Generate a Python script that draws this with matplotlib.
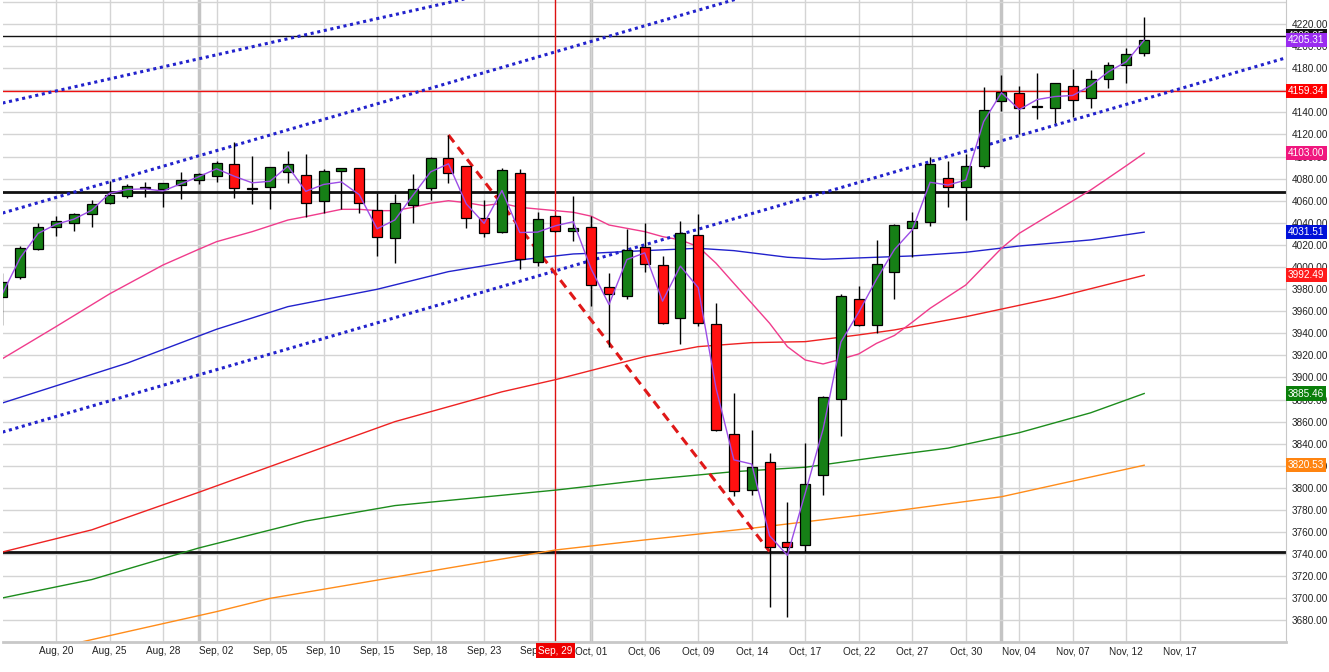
import matplotlib.pyplot as plt
from matplotlib.transforms import blended_transform_factory

plt.rcParams["font.family"] = ["Liberation Sans", "DejaVu Sans"]

# candle positions (trading-day index, 0 = Aug 20) and OHLC
idx = list(range(-3, 62))
opens = [3972.6, 3990.7, 4016.6, 4035.9, 4039.5, 4047.7, 4057.7, 4064.0, 4072.8, 4070.9,
         4074.5, 4078.8, 4082.1, 4093.0, 4071.5, 4072.1, 4086.3, 4083.3, 4059.5, 4086.6,
         4089.4, 4051.6, 4026.0, 4055.8, 4071.2, 4098.4, 4091.4, 4044.1, 4031.4, 4084.8,
         4004.8, 4046.2, 4032.9, 4035.9, 3981.6, 3974.0, 4017.8, 4001.5, 3953.5, 4029.0,
         3948.1, 3848.5, 3798.1, 3823.7, 3750.8, 3748.3, 3811.7, 3880.5, 3970.7, 3947.5,
         3995.2, 4035.6, 4040.5, 4080.3, 4072.1, 4091.4, 4150.3, 4157.2, 4145.6, 4143.7,
         4164.1, 4152.7, 4169.9, 4182.6, 4193.4]
highs = [3994.3, 4019.3, 4039.8, 4046.2, 4049.2, 4060.7, 4078.1, 4074.9, 4076.7, 4076.0,
         4086.0, 4085.4, 4095.7, 4112.9, 4100.5, 4090.5, 4105.0, 4102.3, 4088.7, 4089.5,
         4089.5, 4066.7, 4066.1, 4084.2, 4099.3, 4119.5, 4091.5, 4060.7, 4089.4, 4088.7,
         4050.1, 4047.0, 4064.3, 4046.2, 3994.8, 4034.1, 4040.1, 4009.9, 4041.6, 4048.0,
         3967.1, 3886.2, 3852.4, 3831.3, 3787.5, 3840.4, 3883.0, 3975.3, 3982.8, 4024.5,
         4038.9, 4049.8, 4099.8, 4095.9, 4102.3, 4163.2, 4173.8, 4163.8, 4175.9, 4166.5,
         4179.2, 4178.3, 4185.9, 4198.5, 4226.6]
lows = [3947.5, 3989.0, 4015.5, 4028.3, 4032.9, 4036.5, 4057.0, 4062.2, 4063.7, 4054.6,
        4061.5, 4075.4, 4077.2, 4062.2, 4057.0, 4052.2, 4075.8, 4045.5, 4048.6, 4052.2,
        4049.2, 4010.2, 4003.9, 4039.5, 4060.7, 4075.8, 4035.6, 4027.4, 4030.5, 3997.9,
        4001.2, 4032.0, 4023.8, 3964.7, 3927.8, 3970.7, 3995.7, 3948.4, 3930.3, 3946.8,
        3851.5, 3792.9, 3793.3, 3691.9, 3683.4, 3742.3, 3793.6, 3847.0, 3946.6, 3940.0,
        3970.7, 4009.3, 4037.4, 4054.6, 4042.5, 4089.4, 4141.5, 4120.1, 4133.7, 4130.1,
        4135.5, 4143.7, 4161.8, 4166.3, 4191.0]
closes = [3986.2, 4016.9, 4035.9, 4041.4, 4047.7, 4056.8, 4064.9, 4073.6, 4071.8, 4075.7,
          4078.5, 4084.2, 4093.9, 4071.2, 4071.0, 4090.2, 4093.0, 4057.7, 4086.9, 4089.4,
          4057.7, 4026.9, 4057.7, 4070.3, 4098.4, 4084.8, 4044.1, 4030.5, 4087.8, 4007.0,
          4043.4, 4032.9, 4035.0, 3983.7, 3975.3, 4015.4, 4002.7, 3949.0, 4030.5, 3949.0,
          3852.4, 3797.2, 3819.2, 3746.8, 3746.2, 3803.2, 3882.6, 3974.0, 3947.5, 4002.4,
          4037.7, 4041.6, 4093.0, 4072.1, 4091.4, 4142.1, 4158.1, 4143.7, 4145.1, 4166.3,
          4151.2, 4170.5, 4182.6, 4192.5, 4205.3]
# purple line (one value per candle)
purple = [3976.0, 4008.4, 4030.4, 4038.6, 4043.3, 4051.3, 4066.7, 4070.2, 4070.7, 4068.8,
          4075.3, 4081.7, 4088.9, 4082.1, 4076.2, 4077.6, 4091.3, 4068.5, 4074.7, 4077.0,
          4065.5, 4034.6, 4042.6, 4064.7, 4086.1, 4093.4, 4057.1, 4039.5, 4069.2, 4031.2,
          4031.6, 4037.3, 4041.0, 3998.2, 3966.0, 4006.7, 4012.8, 3969.1, 4000.8, 3981.3,
          3890.3, 3825.4, 3821.6, 3756.7, 3739.0, 3795.3, 3853.1, 3932.1, 3959.0, 3989.0,
          4015.8, 4033.6, 4076.7, 4074.2, 4078.7, 4131.6, 4157.8, 4142.5, 4151.6, 4154.3,
          4155.3, 4164.2, 4176.8, 4185.8, 4205.3]

# moving average lines, sampled along the chart
pink_x = [-3, 0, 3, 6, 8, 9, 11, 13, 14, 16, 17, 18, 19, 20, 21, 22, 23, 24, 25, 26, 27,
          28, 29, 30, 31, 33, 34, 35, 36, 37, 38, 39, 40, 41, 42, 43, 44, 45, 46, 47, 48,
          49, 51, 53, 54, 56, 58, 60, 61]
pink_y = [3917, 3946, 3975.6, 4001.8, 4016, 4022.9, 4032, 4042.5, 4045.6, 4052.2, 4052.2,
          4051, 4051, 4054, 4057.7, 4060, 4058.2, 4055.5, 4057.7, 4054, 4052.5, 4051, 4049.5,
          4046, 4038, 4032, 4027.5, 4024.5, 4018.4, 4003.4, 3985.2, 3967.2, 3949.1, 3927.9,
          3915.8, 3912.2, 3916.5, 3921.3, 3930.9, 3938, 3950, 3962.6, 3983.7, 4016.9, 4030.5,
          4050.1, 4069.7, 4091.7, 4103.0]
blue_x = [-3, 4, 9, 13, 18, 22, 26, 29, 30, 33, 36, 38, 41, 43, 46, 48, 51, 54, 58, 61]
blue_y = [3876.9, 3913, 3943.6, 3964.1, 3979.8, 3995.8, 4006.4, 4011.8, 4012.4, 4014.8,
          4016.9, 4014.8, 4008.8, 4007, 4008.8, 4010, 4013.3, 4019, 4024.5, 4031.51]
red_x = [-3, 2, 8, 14, 19, 25, 28, 33, 36, 39, 42, 45, 47, 51, 56, 61]
red_y = [3742, 3762, 3796, 3831, 3860, 3887, 3898, 3918.8, 3927.9, 3931.5, 3932.4, 3938.5,
         3943, 3955, 3972.2, 3992.49]
green_x = [-3, 2, 8, 14, 19, 28, 33, 38, 42, 46, 50, 54, 58, 61]
green_y = [3700.4, 3717, 3745.6, 3770, 3784, 3798, 3807.2, 3814.7, 3818.7, 3827.7, 3836,
           3850, 3868, 3885.46]
orange_x = [-3, 1, 9, 12, 20, 28, 33, 39, 46, 53, 61]
orange_y = [3645, 3659, 3688, 3700, 3722, 3743.8, 3752.9, 3763.5, 3777, 3792, 3820.53]

# drawn trend lines: (index, price) end points
trend_a = ([-3, 25], [4148.4, 4250.3])
trend_b = ([-3, 40], [4048.8, 4251.3])
trend_c = ([-3, 69], [3850.5, 4189.6])
fall_line = ([22, 40], [4119.5, 3742.5])
black_levels = [4068.0, 3741.7]
thin_black_level = 4209.05
red_level = 4159.34
marker_day = 28
month_starts = [8, 30, 53]

tick_pos = list(range(0, 64, 3))
tick_labels = ["Aug, 20", "Aug, 25", "Aug, 28", "Sep, 02", "Sep, 05", "Sep, 10", "Sep, 15",
               "Sep, 18", "Sep, 23", "Sep, 26", "Oct, 01", "Oct, 06", "Oct, 09", "Oct, 14",
               "Oct, 17", "Oct, 22", "Oct, 27", "Oct, 30", "Nov, 04", "Nov, 07", "Nov, 12",
               "Nov, 17"]
price_ticks = list(range(3680, 4221, 20))

value_tags = [
    (4209.05, "4209.05", "#111111"),
    (4205.31, "4205.31", "#9a2cf0"),
    (4159.34, "4159.34", "#ff0000"),
    (4103.00, "4103.00", "#f0167e"),
    (4031.51, "4031.51", "#0010d8"),
    (3992.49, "3992.49", "#ff1a1a"),
    (3885.46, "3885.46", "#0a7f0a"),
    (3820.53, "3820.53", "#ff8410"),
]

fig = plt.figure(figsize=(13.29, 6.72), dpi=100)
ax = fig.add_axes([3 / 1329, 30 / 672, 1283 / 1329, 642 / 672])
ax.set_xlim(-2.97, 68.95)
ax.set_ylim(3660.5, 4241.7)

for m in month_starts:
    ax.axvline(m, color="#c4c4c4", linewidth=2.5, zorder=0.5)
ax.axhline(4240, color="#d4d4d4", linewidth=1, zorder=0.5)

# level lines
for lv in black_levels:
    ax.axhline(lv, color="#111111", linewidth=2, zorder=1)
ax.axhline(thin_black_level, color="#111111", linewidth=1, zorder=1)
ax.axhline(red_level, color="#ee1111", linewidth=1, zorder=1)
ax.axvline(marker_day, color="#dd1111", linewidth=1, zorder=1)

# moving averages
ax.plot(orange_x, orange_y, color="#ff8c1a", linewidth=1, zorder=1.5)
ax.plot(green_x, green_y, color="#1c8c1c", linewidth=1, zorder=1.5)
ax.plot(red_x, red_y, color="#ee2222", linewidth=1, zorder=1.5)
ax.plot(blue_x, blue_y, color="#2222cc", linewidth=1, zorder=1.5)
ax.plot(pink_x, pink_y, color="#f03c8c", linewidth=1, zorder=1.5)

# trend lines
for tx, ty in (trend_a, trend_b, trend_c):
    ax.plot(tx, ty, color="#2222cc", linewidth=2.2, linestyle=(0, (1, 1.2)), zorder=1.6)
ax.plot(*fall_line, color="#e01818", linewidth=2.2, linestyle=(0, (3, 2)), zorder=1.6)

# candles
ax.vlines(idx, lows, highs, color="black", linewidth=1, zorder=2)
bodies = [c - o for o, c in zip(opens, closes)]
colors = ["#167f16" if c >= o else "#ff1010" for o, c in zip(opens, closes)]
ax.bar(idx, bodies, bottom=opens, width=0.56, color=colors, edgecolor="black",
       linewidth=0.9, zorder=3)
ax.plot(idx, purple, color="#9b4de6", linewidth=1, zorder=4)

# axes styling
for side in ("top", "left"):
    ax.spines[side].set_visible(False)
ax.spines["right"].set_color("#c8c8c8")
ax.spines["bottom"].set_color("#c8c8c8")
ax.spines["bottom"].set_linewidth(2)

ax.yaxis.tick_right()
ax.set_yticks(price_ticks)
ax.set_yticklabels([f"{p:.2f}" for p in price_ticks])
ax.set_xticks(tick_pos)
ax.set_xticklabels(tick_labels)
ax.tick_params(axis="both", length=0, labelsize=7.2, labelcolor="#222222")
ax.tick_params(axis="y", pad=4)
ax.tick_params(axis="x", pad=3)
ax.grid(True, color="#d4d4d4", linewidth=1, zorder=0)
ax.set_axisbelow(True)

trans_y = blended_transform_factory(ax.transAxes, ax.transData)
for val, txt, col in value_tags:
    ax.text(1.0015, val, txt, transform=trans_y, ha="left", va="center", fontsize=7.2,
            color="white", clip_on=False, zorder=10,
            bbox=dict(boxstyle="square,pad=0.22", fc=col, ec="none"))

trans_x = blended_transform_factory(ax.transData, ax.transAxes)
ax.text(marker_day, -0.0135, "Sep, 29", transform=trans_x, ha="center", va="center",
        fontsize=7.2, color="white", clip_on=False, zorder=10,
        bbox=dict(boxstyle="square,pad=0.22", fc="#ee0000", ec="none"))

fig.savefig("out.png", dpi=100)
